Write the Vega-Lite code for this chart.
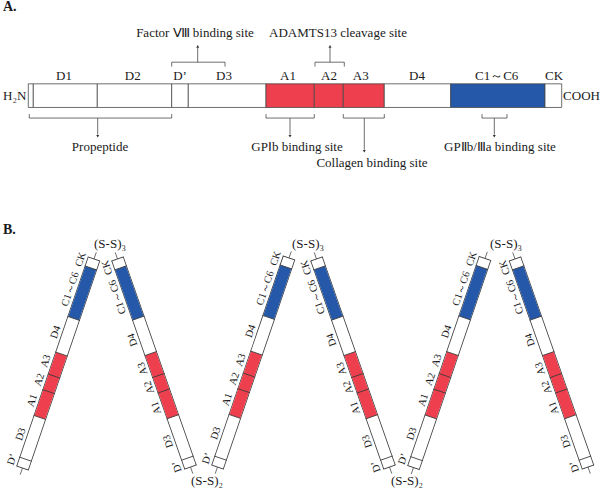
{
"$schema":"https://vega.github.io/schema/vega-lite/v6.json",
"width":600,"height":488,"padding":0,
"autosize":{"type":"fit","contains":"padding"},
"config":{"view":{"stroke":null},"text":{"font":"Liberation Serif","fill":"#1a1a1a"}},
"datasets":{
"adom":[
{"d":"SP","x":28.3,"x2":33.3,"y":84,"y2":107.7,"kind":"white"},
{"d":"D1","x":33.3,"x2":97.3,"y":84,"y2":107.7,"kind":"white"},
{"d":"D2","x":97.3,"x2":171.7,"y":84,"y2":107.7,"kind":"white"},
{"d":"D'","x":171.7,"x2":188.3,"y":84,"y2":107.7,"kind":"white"},
{"d":"D3","x":188.3,"x2":266,"y":84,"y2":107.7,"kind":"white"},
{"d":"A1","x":266,"x2":314.3,"y":84,"y2":107.7,"kind":"red"},
{"d":"A2","x":314.3,"x2":343.3,"y":84,"y2":107.7,"kind":"red"},
{"d":"A3","x":343.3,"x2":384.3,"y":84,"y2":107.7,"kind":"red"},
{"d":"D4","x":384.3,"x2":450.7,"y":84,"y2":107.7,"kind":"white"},
{"d":"C","x":450.7,"x2":545,"y":84,"y2":107.7,"kind":"blue"},
{"d":"CK","x":545,"x2":561.7,"y":84,"y2":107.7,"kind":"white"}
],
"alab":[
{"t":"D1","x":64,"y":76},{"t":"D2","x":132.7,"y":76},{"t":"D’","x":180,"y":76},{"t":"D3","x":224,"y":76},
{"t":"A1","x":288,"y":76},{"t":"A2","x":329,"y":76},{"t":"A3","x":360.7,"y":76},{"t":"D4","x":417,"y":76},
{"t":"C1～C6","x":496.7,"y":76},{"t":"CK","x":554,"y":76},
{"t":"H₂N","x":14.7,"y":96.5},{"t":"COOH","x":581.5,"y":96.5},
{"t":"Factor Ⅷ binding site","x":195,"y":33},
{"t":"ADAMTS13 cleavage site","x":338,"y":33},
{"t":"Propeptide","x":100,"y":147},
{"t":"GPⅠb binding site","x":297,"y":147},
{"t":"Collagen binding site","x":372,"y":163.5},
{"t":"GPⅡb/Ⅲa binding site","x":500,"y":147},
{"t":"(S-S)₃","x":110,"y":245},{"t":"(S-S)₃","x":308,"y":245},{"t":"(S-S)₃","x":506,"y":245},
{"t":"(S-S)₂","x":207,"y":481.5},{"t":"(S-S)₂","x":407,"y":481.5}
],
"titles":[{"t":"A.","x":3,"y":7},{"t":"B.","x":3,"y":230}],
"abrk":[
{"x":171.7,"y":62.3,"x2":225,"y2":62.3},{"x":171.7,"y":62.3,"x2":171.7,"y2":66.7},{"x":225,"y":62.3,"x2":225,"y2":66.7},{"x":197.7,"y":62.3,"x2":197.7,"y2":47.5},
{"x":315,"y":62.3,"x2":344.3,"y2":62.3},{"x":315,"y":62.3,"x2":315,"y2":66.7},{"x":344.3,"y":62.3,"x2":344.3,"y2":66.7},{"x":330,"y":62.3,"x2":330,"y2":47.5},
{"x":29.3,"y":118.3,"x2":171.7,"y2":118.3},{"x":29.3,"y":114.3,"x2":29.3,"y2":118.3},{"x":171.7,"y":114.3,"x2":171.7,"y2":118.3},{"x":97.7,"y":118.3,"x2":97.7,"y2":135},
{"x":266,"y":118.3,"x2":314.3,"y2":118.3},{"x":266,"y":114.3,"x2":266,"y2":118.3},{"x":314.3,"y":114.3,"x2":314.3,"y2":118.3},{"x":290,"y":118.3,"x2":290,"y2":135},
{"x":343.3,"y":118.3,"x2":384.3,"y2":118.3},{"x":343.3,"y":114.3,"x2":343.3,"y2":118.3},{"x":384.3,"y":114.3,"x2":384.3,"y2":118.3},{"x":364.3,"y":118.3,"x2":364.3,"y2":150},
{"x":482,"y":118.3,"x2":507,"y2":118.3},{"x":482,"y":114.3,"x2":482,"y2":118.3},{"x":507,"y":114.3,"x2":507,"y2":118.3},{"x":494.3,"y":118.3,"x2":494.3,"y2":135}
],
"aarrow":[
{"x":197.7,"y":46.5,"dir":"up"},{"x":330,"y":46.5,"dir":"up"},
{"x":97.7,"y":136.5,"dir":"down"},{"x":290,"y":136.5,"dir":"down"},{"x":364.3,"y":151.5,"dir":"down"},{"x":494.3,"y":136.5,"dir":"down"}
],
"bstrand":[
{"s":1,"x":22.5,"y":469,"x2":94.0,"y2":259.5},
{"s":2,"x":190.5,"y":468,"x2":117.5,"y2":259.5},
{"s":3,"x":217.5,"y":468,"x2":289.0,"y2":258.5},
{"s":4,"x":389.5,"y":468,"x2":316.5,"y2":259.5},
{"s":5,"x":413.5,"y":468.5,"x2":485.0,"y2":259.0},
{"s":6,"x":588,"y":468,"x2":515.0,"y2":259.5}
],
"bcolor":[
{"s":1,"kind":"red","x":39.8,"y":418.3,"x2":61.5,"y2":354.8},{"s":1,"kind":"blue","x":73.7,"y":319.1,"x2":90.9,"y2":268.5},
{"s":2,"kind":"red","x":172.8,"y":417.6,"x2":150.7,"y2":354.3},{"s":2,"kind":"blue","x":138.3,"y":318.8,"x2":120.6,"y2":268.4},
{"s":3,"kind":"red","x":234.8,"y":417.3,"x2":256.5,"y2":353.8},{"s":3,"kind":"blue","x":268.7,"y":318.1,"x2":285.9,"y2":267.5},
{"s":4,"kind":"red","x":371.8,"y":417.6,"x2":349.7,"y2":354.3},{"s":4,"kind":"blue","x":337.3,"y":318.8,"x2":319.6,"y2":268.4},
{"s":5,"kind":"red","x":430.8,"y":417.8,"x2":452.5,"y2":354.3},{"s":5,"kind":"blue","x":464.7,"y":318.6,"x2":481.9,"y2":268.0},
{"s":6,"kind":"red","x":570.3,"y":417.6,"x2":548.2,"y2":354.3},{"s":6,"kind":"blue","x":535.8,"y":318.8,"x2":518.1,"y2":268.4}
],
"bdiv":[
{"side":"L","x":22.5,"y":469},{"side":"L","x":25.5,"y":460.1},{"side":"L","x":39.8,"y":418.3},{"side":"L","x":48.6,"y":392.4},{"side":"L","x":54.0,"y":376.8},{"side":"L","x":61.5,"y":354.8},{"side":"L","x":73.7,"y":319.1},{"side":"L","x":90.9,"y":268.5},{"side":"L","x":94.0,"y":259.5},
{"side":"L","x":217.5,"y":468},{"side":"L","x":220.5,"y":459.1},{"side":"L","x":234.8,"y":417.3},{"side":"L","x":243.6,"y":391.4},{"side":"L","x":249.0,"y":375.8},{"side":"L","x":256.5,"y":353.8},{"side":"L","x":268.7,"y":318.1},{"side":"L","x":285.9,"y":267.5},{"side":"L","x":289.0,"y":258.5},
{"side":"L","x":413.5,"y":468.5},{"side":"L","x":416.5,"y":459.6},{"side":"L","x":430.8,"y":417.8},{"side":"L","x":439.6,"y":391.9},{"side":"L","x":445.0,"y":376.3},{"side":"L","x":452.5,"y":354.3},{"side":"L","x":464.7,"y":318.6},{"side":"L","x":481.9,"y":268.0},{"side":"L","x":485.0,"y":259.0},
{"side":"R","x":190.5,"y":468},{"side":"R","x":187.4,"y":459.1},{"side":"R","x":172.8,"y":417.6},{"side":"R","x":163.8,"y":391.8},{"side":"R","x":158.4,"y":376.3},{"side":"R","x":150.7,"y":354.3},{"side":"R","x":138.3,"y":318.8},{"side":"R","x":120.6,"y":268.4},{"side":"R","x":117.5,"y":259.5},
{"side":"R","x":389.5,"y":468},{"side":"R","x":386.4,"y":459.1},{"side":"R","x":371.8,"y":417.6},{"side":"R","x":362.8,"y":391.8},{"side":"R","x":357.4,"y":376.3},{"side":"R","x":349.7,"y":354.3},{"side":"R","x":337.3,"y":318.8},{"side":"R","x":319.6,"y":268.4},{"side":"R","x":316.5,"y":259.5},
{"side":"R","x":588,"y":468},{"side":"R","x":584.9,"y":459.1},{"side":"R","x":570.3,"y":417.6},{"side":"R","x":561.3,"y":391.8},{"side":"R","x":555.9,"y":376.3},{"side":"R","x":548.2,"y":354.3},{"side":"R","x":535.8,"y":318.8},{"side":"R","x":518.1,"y":268.4},{"side":"R","x":515.0,"y":259.5}
],
"bext":[
{"x":94.0,"y":259.5,"x2":96.3,"y2":252.9},{"x":22.5,"y":469,"x2":20.2,"y2":475.6},
{"x":117.5,"y":259.5,"x2":115.2,"y2":252.9},{"x":190.5,"y":468,"x2":192.8,"y2":474.6},
{"x":289.0,"y":258.5,"x2":291.3,"y2":251.9},{"x":217.5,"y":468,"x2":215.2,"y2":474.6},
{"x":316.5,"y":259.5,"x2":314.2,"y2":252.9},{"x":389.5,"y":468,"x2":391.8,"y2":474.6},
{"x":485.0,"y":259.0,"x2":487.3,"y2":252.4},{"x":413.5,"y":468.5,"x2":411.2,"y2":475.1},
{"x":515.0,"y":259.5,"x2":512.7,"y2":252.9},{"x":588,"y":468,"x2":590.3,"y2":474.6}
],
"blab":[
{"side":"L","t":"D’","x":24.0,"y":464.5},{"side":"L","t":"D3","x":32.7,"y":439.2},{"side":"L","t":"A1","x":44.2,"y":405.4},{"side":"L","t":"A2","x":51.3,"y":384.6},{"side":"L","t":"A3","x":57.7,"y":365.8},{"side":"L","t":"D4","x":67.6,"y":336.9},{"side":"L","t":"C1～C6","x":82.3,"y":293.8},{"side":"L","t":"CK","x":92.5,"y":264.0},
{"side":"L","t":"D’","x":219.0,"y":463.5},{"side":"L","t":"D3","x":227.7,"y":438.2},{"side":"L","t":"A1","x":239.2,"y":404.4},{"side":"L","t":"A2","x":246.3,"y":383.6},{"side":"L","t":"A3","x":252.7,"y":364.8},{"side":"L","t":"D4","x":262.6,"y":335.9},{"side":"L","t":"C1～C6","x":277.3,"y":292.8},{"side":"L","t":"CK","x":287.5,"y":263.0},
{"side":"L","t":"D’","x":415.0,"y":464.0},{"side":"L","t":"D3","x":423.7,"y":438.7},{"side":"L","t":"A1","x":435.2,"y":404.9},{"side":"L","t":"A2","x":442.3,"y":384.1},{"side":"L","t":"A3","x":448.7,"y":365.3},{"side":"L","t":"D4","x":458.6,"y":336.4},{"side":"L","t":"C1～C6","x":473.3,"y":293.3},{"side":"L","t":"CK","x":483.5,"y":263.5},
{"side":"R","t":"D’","x":188.9,"y":463.6},{"side":"R","t":"D3","x":180.1,"y":438.3},{"side":"R","t":"A1","x":168.3,"y":404.7},{"side":"R","t":"A2","x":161.1,"y":384.0},{"side":"R","t":"A3","x":154.5,"y":365.3},{"side":"R","t":"D4","x":144.5,"y":336.6},{"side":"R","t":"C1～C6","x":129.4,"y":293.6},{"side":"R","t":"CK","x":119.1,"y":264.0},
{"side":"R","t":"D’","x":387.9,"y":463.6},{"side":"R","t":"D3","x":379.1,"y":438.3},{"side":"R","t":"A1","x":367.3,"y":404.7},{"side":"R","t":"A2","x":360.1,"y":384.0},{"side":"R","t":"A3","x":353.5,"y":365.3},{"side":"R","t":"D4","x":343.5,"y":336.6},{"side":"R","t":"C1～C6","x":328.4,"y":293.6},{"side":"R","t":"CK","x":318.1,"y":264.0},
{"side":"R","t":"D’","x":586.4,"y":463.6},{"side":"R","t":"D3","x":577.6,"y":438.3},{"side":"R","t":"A1","x":565.8,"y":404.7},{"side":"R","t":"A2","x":558.6,"y":384.0},{"side":"R","t":"A3","x":552.0,"y":365.3},{"side":"R","t":"D4","x":542.0,"y":336.6},{"side":"R","t":"C1～C6","x":526.9,"y":293.6},{"side":"R","t":"CK","x":516.6,"y":264.0}
]
},
"encoding":{
"x":{"field":"x","type":"quantitative","scale":{"domain":[0,600],"nice":false,"zero":false},"axis":null},
"y":{"field":"y","type":"quantitative","scale":{"domain":[0,488],"nice":false,"zero":false,"reverse":true},"axis":null}
},
"layer":[
{"data":{"name":"adom"},"mark":{"type":"rect","stroke":"#4a4a4a","strokeWidth":0.8},
 "encoding":{"x2":{"field":"x2"},"y2":{"field":"y2"},
 "color":{"field":"kind","type":"nominal","scale":{"domain":["white","red","blue"],"range":["#ffffff","#EE3F4E","#2558A8"]},"legend":null}}},
{"data":{"name":"abrk"},"mark":{"type":"rule","color":"#4a4a4a","strokeWidth":0.8},
 "encoding":{"x2":{"field":"x2"},"y2":{"field":"y2"}}},
{"data":{"name":"aarrow"},"mark":{"type":"point","filled":true,"opacity":1,"size":9,"color":"#333"},
 "encoding":{"shape":{"field":"dir","type":"nominal","scale":{"domain":["up","down"],"range":["triangle-up","triangle-down"]},"legend":null}}},
{"data":{"name":"alab"},"mark":{"type":"text","font":"Liberation Serif","fontSize":13,"align":"center","baseline":"middle"},
 "encoding":{"text":{"field":"t"}}},
{"data":{"name":"titles"},"mark":{"type":"text","font":"Liberation Serif","fontSize":14,"fontWeight":"bold","align":"left","baseline":"middle"},
 "encoding":{"text":{"field":"t"}}},
{"data":{"name":"bstrand"},"mark":{"type":"rule","color":"#3a3a3a","strokeWidth":13,"strokeCap":"butt"},
 "encoding":{"x2":{"field":"x2"},"y2":{"field":"y2"}}},
{"data":{"name":"bstrand"},"mark":{"type":"rule","color":"#ffffff","strokeWidth":11.4,"strokeCap":"butt"},
 "encoding":{"x2":{"field":"x2"},"y2":{"field":"y2"}}},
{"data":{"name":"bcolor"},"mark":{"type":"rule","strokeWidth":11.4,"strokeCap":"butt"},
 "encoding":{"x2":{"field":"x2"},"y2":{"field":"y2"},"color":{"field":"kind","type":"nominal","legend":null}}},
{"data":{"name":"bdiv"},"transform":[{"filter":"datum.side == 'L'"}],
 "mark":{"type":"point","shape":"stroke","size":169,"angle":18.8,"filled":false,"opacity":1,"color":"#3a3a3a","strokeWidth":0.8},"encoding":{}},
{"data":{"name":"bdiv"},"transform":[{"filter":"datum.side == 'R'"}],
 "mark":{"type":"point","shape":"stroke","size":169,"angle":-19.3,"filled":false,"opacity":1,"color":"#3a3a3a","strokeWidth":0.8},"encoding":{}},
{"data":{"name":"bext"},"mark":{"type":"rule","color":"#4a4a4a","strokeWidth":0.8},
 "encoding":{"x2":{"field":"x2"},"y2":{"field":"y2"}}},
{"data":{"name":"blab"},"transform":[{"filter":"datum.side == 'L'"}],
 "mark":{"type":"text","font":"Liberation Serif","fontSize":10.5,"angle":-71.3,"dy":-12.5,"align":"center","baseline":"middle"},
 "encoding":{"text":{"field":"t"}}},
{"data":{"name":"blab"},"transform":[{"filter":"datum.side == 'R'"}],
 "mark":{"type":"text","font":"Liberation Serif","fontSize":10.5,"angle":-108.7,"dy":-12.5,"align":"center","baseline":"middle"},
 "encoding":{"text":{"field":"t"}}}
]
}
